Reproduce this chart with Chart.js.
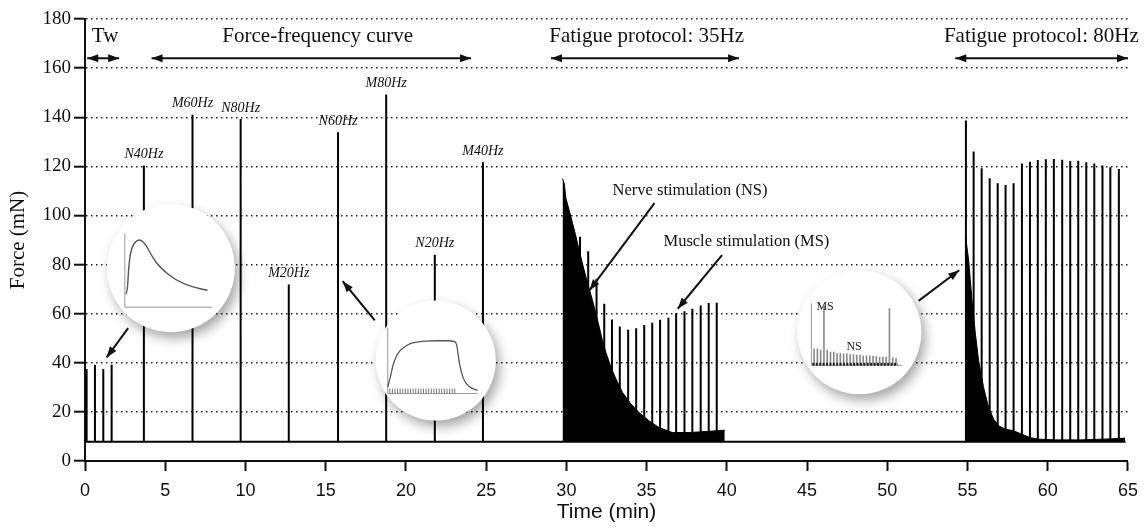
<!DOCTYPE html>
<html>
<head>
<meta charset="utf-8">
<script src="https://cdn.jsdelivr.net/npm/chart.js@4.4.1/dist/chart.umd.min.js"></script>
<style>html,body{margin:0;background:#fff}</style>
</head>
<body>
<canvas id="chart" width="1147" height="527"></canvas>
<script>
// force trace data (min, mN)
const BASE = 7.8;
const twitchTimes = [0.1, 0.62, 1.14, 1.66];
const twitchPeaks = [37.5, 39.2, 37.5, 39.2];

const ffLabels = ['N40Hz', 'M60Hz', 'N80Hz', 'M20Hz', 'N60Hz', 'M80Hz', 'N20Hz', 'M40Hz'];
const ffTimes = [3.67, 6.7, 9.7, 12.7, 15.77, 18.77, 21.8, 24.8];
const ffPeaks = [120.3, 141, 139.3, 71.9, 133.9, 149.3, 84, 121.7];

// 35 Hz fatigue: nerve stimulation envelope + muscle stimulation spikes
const ns35Times = [29.76, 29.87, 29.97, 30.18, 30.39, 30.6, 30.8, 31.0, 31.22, 31.42, 31.63, 31.84, 32.05, 32.25, 32.46, 32.78, 33.09, 33.5, 34.02, 34.54, 35.16, 35.78, 36.6, 37.65, 38.69, 39.72, 39.87];
const ns35Env = [115, 113, 107, 102, 96.7, 91.3, 85.8, 80.4, 74.9, 70.2, 65.4, 60, 54.5, 49, 44.3, 38.1, 33.4, 27.9, 23.2, 19.7, 16.3, 13.6, 11.6, 11.6, 12, 12.5, 12.5];
const ms35Times = [30.85, 31.36, 31.88, 32.36, 32.84, 33.33, 33.85, 34.35, 34.85, 35.35, 35.84, 36.36, 36.84, 37.36, 37.85, 38.37, 38.87, 39.37];
const ms35Peaks = [91.3, 85.4, 74.2, 64.0, 57.6, 54.8, 53.5, 54.1, 55.4, 56.3, 57.5, 58.3, 60.3, 61.0, 62.0, 63.3, 64.3, 64.4];

// 80 Hz fatigue
const ns80Times = [54.87, 55.07, 55.28, 55.49, 55.69, 56.0, 56.31, 56.63, 56.94, 57.35, 57.87, 58.39, 58.91, 59.43, 60.5, 62, 63.5, 64.82];
const ns80Env = [92, 81.7, 65.4, 51.8, 40.9, 30, 21.8, 17, 14.3, 13, 12.3, 10.9, 9.5, 8.9, 8.6, 8.6, 8.9, 9.3];
const ms80Times = [54.9, 55.38, 55.88, 56.38, 56.88, 57.37, 57.87, 58.39, 58.89, 59.38, 59.88, 60.38, 60.9, 61.4, 61.9, 62.4, 62.9, 63.41, 63.9, 64.43];
const ms80Peaks = [138.7, 126.0, 119.2, 115.1, 113.1, 112.4, 113.1, 121.2, 121.9, 122.6, 122.9, 123.0, 122.7, 122.2, 122.3, 121.7, 121.2, 120.3, 119.6, 118.9];
const traceEnd = 64.85;

// small inset sketches (relative 0..1 inside each inset frame)
const twitchInset = [[0.01, 0.18], [0.03, 0.2], [0.04, 0.5], [0.07, 0.8], [0.15, 0.93], [0.23, 0.87], [0.31, 0.69], [0.4, 0.54], [0.59, 0.36], [0.78, 0.27], [0.95, 0.23]];
const tetanusInset = [[0, 0.1], [0.03, 0.25], [0.06, 0.45], [0.1, 0.58], [0.14, 0.66], [0.2, 0.72], [0.25, 0.76], [0.36, 0.79], [0.47, 0.8], [0.6, 0.8], [0.75, 0.8], [0.77, 0.72], [0.79, 0.5], [0.82, 0.3], [0.86, 0.16], [0.93, 0.08], [1.0, 0.05]];
const pulseInset = [0.27, 0.27, 0.25, 0.96, 0.25, 0.22, 0.22, 0.2, 0.2, 0.19, 0.19, 0.18, 0.18, 0.17, 0.17, 0.16, 0.16, 0.16, 0.15, 0.15, 0.14, 0.14, 0.14, 0.92, 0.13, 0.12];

const SERIF = '"Liberation Serif", "Times New Roman", serif';
const SANS = '"Liberation Sans", Arial, sans-serif';

// build the main trace: baseline with vertical spikes
const spikes = [];
twitchTimes.forEach((t, i) => spikes.push([t, twitchPeaks[i]]));
ffTimes.forEach((t, i) => spikes.push([t, ffPeaks[i]]));
ms35Times.forEach((t, i) => spikes.push([t, ms35Peaks[i]]));
ms80Times.forEach((t, i) => spikes.push([t, ms80Peaks[i]]));
spikes.sort((a, b) => a[0] - b[0]);
const trace = [{x: 0, y: BASE}];
spikes.forEach(([t, p]) => {
    trace.push({x: t, y: BASE}, {x: t, y: p}, {x: t, y: BASE});
});
trace.push({x: traceEnd, y: BASE});

const env35 = ns35Times.map((t, i) => ({x: t, y: ns35Env[i]}));
const env80 = ns80Times.map((t, i) => ({x: t, y: ns80Env[i]}));

function head(ctx, x1, y1, x2, y2, L, W) {
    const a = Math.atan2(y2 - y1, x2 - x1);
    ctx.beginPath();
    ctx.moveTo(x2, y2);
    ctx.lineTo(x2 - L * Math.cos(a) + W * Math.sin(a), y2 - L * Math.sin(a) - W * Math.cos(a));
    ctx.lineTo(x2 - L * Math.cos(a) - W * Math.sin(a), y2 - L * Math.sin(a) + W * Math.cos(a));
    ctx.closePath();
    ctx.fill();
}

function arrow(ctx, x1, y1, x2, y2, both) {
    ctx.beginPath();
    ctx.moveTo(x1, y1);
    ctx.lineTo(x2, y2);
    ctx.stroke();
    head(ctx, x1, y1, x2, y2, 11, 4);
    if (both) head(ctx, x2, y2, x1, y1, 11, 4);
}

function circle(ctx, cx, cy, r) {
    ctx.save();
    ctx.shadowColor = 'rgba(0,0,0,0.35)';
    ctx.shadowBlur = 12;
    ctx.shadowOffsetX = 4;
    ctx.shadowOffsetY = 6;
    ctx.fillStyle = '#fff';
    ctx.beginPath();
    ctx.arc(cx, cy, r, 0, Math.PI * 2);
    ctx.fill();
    ctx.restore();
}

function miniAxes(ctx, x0, y0, w, h) {
    ctx.strokeStyle = '#999';
    ctx.lineWidth = 1;
    ctx.beginPath();
    ctx.moveTo(x0, y0 - h);
    ctx.lineTo(x0, y0);
    ctx.lineTo(x0 + w, y0);
    ctx.stroke();
}

function smooth(ctx, pts, x0, y0, w, h) {
    ctx.beginPath();
    ctx.moveTo(x0 + pts[0][0] * w, y0 - pts[0][1] * h);
    for (let i = 1; i < pts.length - 1; i++) {
        const xa = x0 + pts[i][0] * w, ya = y0 - pts[i][1] * h;
        const xb = x0 + pts[i + 1][0] * w, yb = y0 - pts[i + 1][1] * h;
        ctx.quadraticCurveTo(xa, ya, (xa + xb) / 2, (ya + yb) / 2);
    }
    const last = pts[pts.length - 1];
    ctx.lineTo(x0 + last[0] * w, y0 - last[1] * h);
    ctx.stroke();
}

const overlay = {
    id: 'overlay',
    afterDatasetsDraw(chart) {
        const ctx = chart.ctx;
        const X = v => chart.scales.x.getPixelForValue(v);
        const Y = v => chart.scales.y.getPixelForValue(v);
        ctx.save();

        // inset 1: single twitch
        let cx = X(5.35), cy = Y(78.5);
        circle(ctx, cx, cy, 64);
        let x0 = cx - 46, y0 = cy + 39;
        miniAxes(ctx, x0, y0, 87, 74);
        ctx.strokeStyle = '#555';
        ctx.lineWidth = 1.4;
        smooth(ctx, twitchInset, x0, y0, 87, 74);

        // inset 2: tetanic contraction
        cx = X(21.86); cy = Y(40.9);
        circle(ctx, cx, cy, 60);
        x0 = cx - 48; y0 = cy + 33;
        miniAxes(ctx, x0, y0, 90, 66);
        ctx.strokeStyle = '#777';
        ctx.lineWidth = 1;
        ctx.beginPath();
        for (let px = x0 + 2; px <= x0 + 0.75 * 90; px += 2.6) {
            ctx.moveTo(px, y0);
            ctx.lineTo(px, y0 - 5);
        }
        ctx.stroke();
        ctx.strokeStyle = '#555';
        ctx.lineWidth = 1.3;
        smooth(ctx, tetanusInset, x0, y0, 90, 66);

        // inset 3: NS / MS pulses
        cx = X(48.26); cy = Y(52.4);
        circle(ctx, cx, cy, 62);
        x0 = cx - 48; y0 = cy + 33;
        miniAxes(ctx, x0, y0, 91, 62);
        ctx.strokeStyle = '#888';
        ctx.lineWidth = 1.6;
        ctx.beginPath();
        pulseInset.forEach((h, i) => {
            const px = x0 + (0.03 + i * 0.036) * 91;
            ctx.moveTo(px, y0);
            ctx.lineTo(px, y0 - h * 62);
        });
        ctx.stroke();
        ctx.strokeStyle = '#222';
        ctx.lineWidth = 3;
        ctx.setLineDash([2, 1.4]);
        ctx.beginPath();
        ctx.moveTo(x0 + 1, y0 - 1);
        ctx.lineTo(x0 + 0.95 * 91, y0 - 1);
        ctx.stroke();
        ctx.setLineDash([]);
        ctx.fillStyle = '#222';
        ctx.font = '12px ' + SERIF;
        ctx.textAlign = 'left';
        ctx.textBaseline = 'middle';
        ctx.fillText('MS', x0 + 5, y0 - 58);
        ctx.fillText('NS', x0 + 35, y0 - 18);

        // arrows
        ctx.strokeStyle = '#111';
        ctx.fillStyle = '#111';
        ctx.lineWidth = 2;
        arrow(ctx, X(2.69), Y(54.1), X(1.35), Y(42.2));
        arrow(ctx, X(18.06), Y(57.3), X(16.06), Y(73.2));
        arrow(ctx, X(35.49), Y(105), X(31.44), Y(69.5));
        arrow(ctx, X(39.7), Y(83.8), X(36.94), Y(62.0));
        arrow(ctx, X(51.95), Y(65.2), X(54.48), Y(77.7));

        // protocol spans
        const spanY = Y(164);
        arrow(ctx, X(0.14), spanY, X(2.13), spanY, true);
        arrow(ctx, X(4.15), spanY, X(24.06), spanY, true);
        arrow(ctx, X(29.04), spanY, X(40.76), spanY, true);
        arrow(ctx, X(54.24), spanY, X(65.0), spanY, true);

        ctx.font = '21px ' + SERIF;
        ctx.textAlign = 'center';
        ctx.textBaseline = 'middle';
        const textY = Y(172.7);
        ctx.fillText('Tw', X(1.25), textY);
        ctx.fillText('Force-frequency curve', X(14.5), textY);
        ctx.fillText('Fatigue protocol: 35Hz', X(35.0), textY);
        ctx.fillText('Fatigue protocol: 80Hz', X(59.6), textY);

        ctx.font = '16.5px ' + SERIF;
        ctx.textAlign = 'left';
        ctx.fillText('Nerve stimulation (NS)', X(32.88), Y(110.1));
        ctx.fillText('Muscle stimulation (MS)', X(36.05), Y(89.3));

        // spike labels
        ctx.font = 'italic 14px ' + SERIF;
        ctx.textAlign = 'center';
        ffLabels.forEach((lab, i) => {
            ctx.fillText(lab, X(ffTimes[i]), Y(ffPeaks[i]) - 11);
        });

        ctx.restore();
    }
};

new Chart(document.getElementById('chart'), {
    type: 'line',
    data: {
        datasets: [
            {
                data: env35,
                borderColor: '#000',
                backgroundColor: '#000',
                borderWidth: 1,
                pointRadius: 0,
                fill: {value: BASE}
            },
            {
                data: env80,
                borderColor: '#000',
                backgroundColor: '#000',
                borderWidth: 1,
                pointRadius: 0,
                fill: {value: BASE}
            },
            {
                data: trace,
                borderColor: '#000',
                borderWidth: 2,
                pointRadius: 0,
                fill: false,
                borderJoinStyle: 'bevel'
            }
        ]
    },
    options: {
        responsive: false,
        animation: false,
        devicePixelRatio: 1,
        layout: {padding: {top: 19, right: 18, bottom: 0, left: 0}},
        plugins: {
            legend: {display: false},
            tooltip: {enabled: false}
        },
        scales: {
            x: {
                type: 'linear',
                min: 0,
                max: 65,
                ticks: {stepSize: 5, color: '#111', font: {family: SANS, size: 18}, padding: 9, maxRotation: 0},
                grid: {drawOnChartArea: false, tickLength: 10, tickWidth: 2, tickColor: '#111'},
                border: {color: '#111', width: 2},
                title: {display: true, text: 'Time (min)', color: '#111', font: {family: SANS, size: 21}, padding: {top: 0, bottom: 2}},
                afterFit: s => { s.height = 66; }
            },
            y: {
                min: 0,
                max: 180,
                ticks: {stepSize: 20, color: '#111', font: {family: SERIF, size: 19}, padding: 3},
                grid: {color: '#222', lineWidth: 1.4, tickLength: 11, tickWidth: 2, tickColor: '#111'},
                border: {color: '#111', width: 2, dash: [1.5, 3.5]},
                title: {display: true, text: 'Force (mN)', color: '#111', font: {family: SERIF, size: 21}, padding: {top: 6, bottom: 0}},
                afterFit: s => { s.width = 85; }
            }
        }
    },
    plugins: [overlay]
});
</script>
</body>
</html>
